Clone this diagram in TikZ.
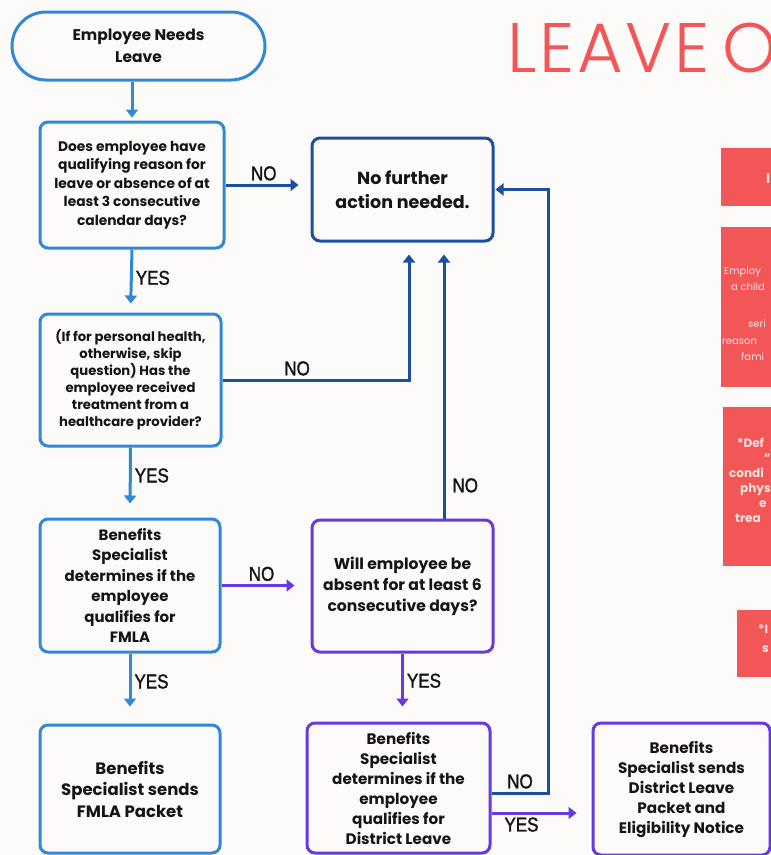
\documentclass[tikz,border=0pt]{standalone}
\usepackage{fontspec}
\setmainfont{Poppins}
\newfontfamily\titlefont{Poppins Light}[LetterSpace=4]
\newfontfamily\lblfont{Liberation Sans}[FakeStretch=0.85,FakeBold=1.5]
\usetikzlibrary{shapes,arrows.meta,positioning,calc}

\definecolor{lblue}{RGB}{47,136,216}
\definecolor{dblue}{RGB}{27,79,160}
\definecolor{purp}{RGB}{104,56,224}
\definecolor{coral}{RGB}{243,86,86}
\definecolor{ink}{RGB}{22,20,20}
\definecolor{paper}{RGB}{253,250,250}
\definecolor{pinktxt}{RGB}{255,228,228}

\begin{document}
\begin{tikzpicture}[x=1pt, y=-1pt,
    box/.style={rectangle, rounded corners=8pt, draw, line width=3pt, align=center, inner sep=0pt, text=ink, font=\bfseries\fontsize{13.8}{18.5}\selectfont},
    lbox/.style={box, draw=lblue},
    dbox/.style={box, draw=dblue},
    pbox/.style={box, draw=purp},
    arrow/.style={-{Triangle[width=12pt,length=8pt]}, line width=3pt},
    lbl/.style={font=\lblfont\fontsize{20}{20}\selectfont, text=ink, inner sep=3pt},
    note/.style={rectangle, fill=coral, inner sep=0pt},
    notetxt/.style={anchor=base west, inner sep=0pt, text=pinktxt},
    title/.style={font=\titlefont\fontsize{70}{70}\selectfont, text=coral, inner sep=0pt}]

    \useasboundingbox (0,0) rectangle (771,855);
    \clip (0,0) rectangle (771,855);
    \fill[paper] (0,0) rectangle (771,855);

    % title and side notes
    \node[title, anchor=base west] (title) at (507,72) {LEAVE{\kern-10pt} O};
    \node[note, minimum width=60pt, minimum height=58pt] (notea) at (751,177) {};
    \node[note, minimum width=60pt, minimum height=160pt] (noteb) at (751,307) {};
    \node[note, minimum width=58pt, minimum height=159pt] (notec) at (752,486.5) {};
    \node[note, minimum width=44pt, minimum height=67pt] (noted) at (759,643.5) {};

    \node[notetxt, font=\bfseries\fontsize{14}{14}\selectfont] (ta) at (766,183) {I};
    \begin{scope}[font=\fontsize{10}{10}\selectfont]
    \node[notetxt] (tb1) at (724,274) {Employ};
    \node[notetxt] (tb2) at (731,290) {a child};
    \node[notetxt] (tb3) at (748,327) {seri};
    \node[notetxt] (tb4) at (722,344) {reason};
    \node[notetxt] (tb5) at (741,360) {fami};
    \end{scope}
    \begin{scope}[font=\bfseries\fontsize{12}{12}\selectfont]
    \node[notetxt] (tc1) at (737,447) {*Def};
    \node[notetxt] (tc2) at (764,462) {"};
    \node[notetxt] (tc3) at (729,477) {condi};
    \node[notetxt] (tc4) at (740,492) {phys};
    \node[notetxt] (tc5) at (759,507) {e};
    \node[notetxt] (tc6) at (735,522) {trea};
    \node[notetxt] (td1) at (758,633) {*I};
    \node[notetxt] (td2) at (762,652) {s};
    \end{scope}

    % flow boxes
    \node[lbox, rounded corners=34pt, minimum width=253pt, minimum height=68pt, font=\bfseries\fontsize{15.5}{22}\selectfont] (start) at (138.5,46) {Employee Needs\\Leave};
    \node[lbox, minimum width=184pt, minimum height=126pt] (qual) at (132,185) {Does employee have\\qualifying reason for\\leave or absence of at\\least 3 consecutive\\calendar days?};
    \node[dbox, minimum width=181pt, minimum height=103pt, font=\bfseries\fontsize{17.5}{24}\selectfont] (stop) at (402.5,189.5) {No further\\action needed.};
    \node[lbox, minimum width=181pt, minimum height=132pt, font=\bfseries\fontsize{13.2}{17}\selectfont] (health) at (130.5,380) {(If for personal health,\\otherwise, skip\\question) Has the\\employee received\\treatment from a\\healthcare provider?};
    \node[lbox, minimum width=180pt, minimum height=133pt, font=\bfseries\fontsize{15}{20.5}\selectfont] (fmla) at (130,585.5) {Benefits\\Specialist\\determines if the\\employee\\qualifies for\\FMLA};
    \node[pbox, minimum width=181pt, minimum height=132pt, font=\bfseries\fontsize{15.6}{21}\selectfont] (absent) at (402.5,586) {Will employee be\\absent for at least 6\\consecutive days?};
    \node[lbox, minimum width=180pt, minimum height=128pt, font=\bfseries\fontsize{16.5}{21.5}\selectfont] (fmlapk) at (130,789) {Benefits\\Specialist sends\\FMLA Packet};
    \node[pbox, minimum width=183pt, minimum height=130pt, font=\bfseries\fontsize{15.2}{20}\selectfont] (dist) at (398.5,788) {Benefits\\Specialist\\determines if the\\employee\\qualifies for\\District Leave};
    \node[pbox, minimum width=177pt, minimum height=132pt, font=\bfseries\fontsize{15.2}{20}\selectfont] (distpk) at (681.5,789) {Benefits\\Specialist sends\\District Leave\\Packet and\\Eligibility Notice};

    % connectors
    \draw[arrow, lblue, shorten >=3pt] (start.south -| qual.north) -- (qual.north);
    \draw[arrow, dblue, shorten >=12pt] (qual.east) -- node[lbl, above, pos=0.45] {NO} (qual.east -| stop.west);
    \draw[arrow, lblue, shorten >=9pt] (qual.south) -- node[lbl, right, pos=0.45] {YES} (health.north);
    \draw[arrow, dblue, shorten >=12pt] (health.east) -| node[lbl, above, pos=0.2] {NO} ([xshift=6.5pt]stop.south);
    \draw[arrow, lblue, shorten >=14pt] (health.south) -- node[lbl, right, pos=0.4] {YES} (fmla.north);
    \draw[arrow, purp, shorten >=16pt] (fmla.east) -- node[lbl, above, pos=0.45] {NO} (fmla.east -| absent.west);
    \draw[arrow, lblue, shorten >=17pt] (fmla.south) -- node[lbl, right, pos=0.4] {YES} (fmlapk.north);
    \draw[arrow, dblue, shorten >=12pt] ([xshift=41.5pt]absent.north) -- node[lbl, right=4pt, pos=0.12] {NO} ([xshift=41.5pt]absent.north |- stop.south);
    \draw[arrow, purp, shorten >=15pt] (absent.south) -- node[lbl, right, pos=0.4] {YES} (absent.south |- dist.north);
    \draw[arrow, dblue, shorten >=1pt] ([yshift=-5pt]dist.east) -| node[lbl, above, pos=0.25] {NO} ([xshift=54pt]stop.east) -- (stop.east);
    \draw[arrow, purp, shorten >=15pt] ([yshift=-25pt]dist.east) -- node[lbl, below, pos=0.3] {YES} ([yshift=-25pt]dist.east -| distpk.west);
\end{tikzpicture}
\end{document}
